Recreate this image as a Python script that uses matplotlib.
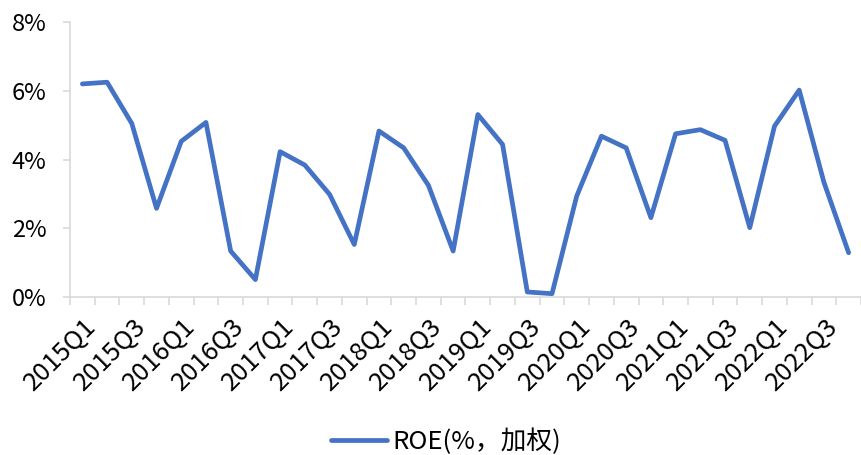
import numpy as np
import matplotlib.pyplot as plt
from matplotlib.ticker import FuncFormatter, FixedLocator
from matplotlib.transforms import ScaledTranslation

plt.rcParams['font.family'] = ['Noto Sans CJK SC', 'DejaVu Sans']

# quarters 2015Q1 .. 2022Q4
quarters = [f"{y}Q{q}" for y in range(2015, 2023) for q in range(1, 5)]
roe = [6.20, 6.25, 5.05, 2.58, 4.53, 5.08, 1.34, 0.51,
       4.23, 3.84, 2.99, 1.53, 4.83, 4.34, 3.25, 1.34,
       5.31, 4.44, 0.15, 0.10, 2.94, 4.68, 4.34, 2.31,
       4.75, 4.87, 4.56, 2.02, 4.97, 6.02, 3.34, 1.29]
yticks = [0, 2, 4, 6, 8]

fig = plt.figure(figsize=(8.61, 4.55), dpi=100)
ax = fig.add_axes([0.0813, 0.347, 0.9187, 0.6046])

x = np.arange(len(quarters))
ax.plot(x, roe, color='#4472C4', linewidth=3.4, solid_joinstyle='round',
        solid_capstyle='round', label='ROE(%，加权)')

ax.set_xlim(-0.5, len(quarters) - 0.5)
ax.set_ylim(0, 8)
ax.set_yticks(yticks)
ax.yaxis.set_major_formatter(FuncFormatter(lambda v, p: f"{v:.0f}%"))

# labels on every other quarter, tick marks at category boundaries
ax.set_xticks(x[::2])
ax.set_xticklabels(quarters[::2], rotation=45, ha='right', rotation_mode='anchor')
ax.xaxis.set_minor_locator(FixedLocator(np.arange(-0.5, len(quarters), 1.0)))
ax.tick_params(axis='x', which='major', length=0, pad=12, labelsize=18.5)
ax.tick_params(axis='x', which='minor', length=6, width=1.2, color='#d9d9d9')
ax.tick_params(axis='y', length=5, width=1.2, color='#d9d9d9', labelsize=17, pad=12)
shift = ScaledTranslation(1 / 100, 0, fig.dpi_scale_trans)
for lab in ax.get_xticklabels():
    lab.set_transform(lab.get_transform() + shift)

for s in ['top', 'right']:
    ax.spines[s].set_visible(False)
for s in ['left', 'bottom']:
    ax.spines[s].set_color('#d9d9d9')
    ax.spines[s].set_linewidth(1.2)

fig.legend(loc='center', bbox_to_anchor=(0.518, 0.03), frameon=False,
           fontsize=18.5, handlelength=2.2, handletextpad=0.2)

fig.savefig('out.png', dpi=100)
